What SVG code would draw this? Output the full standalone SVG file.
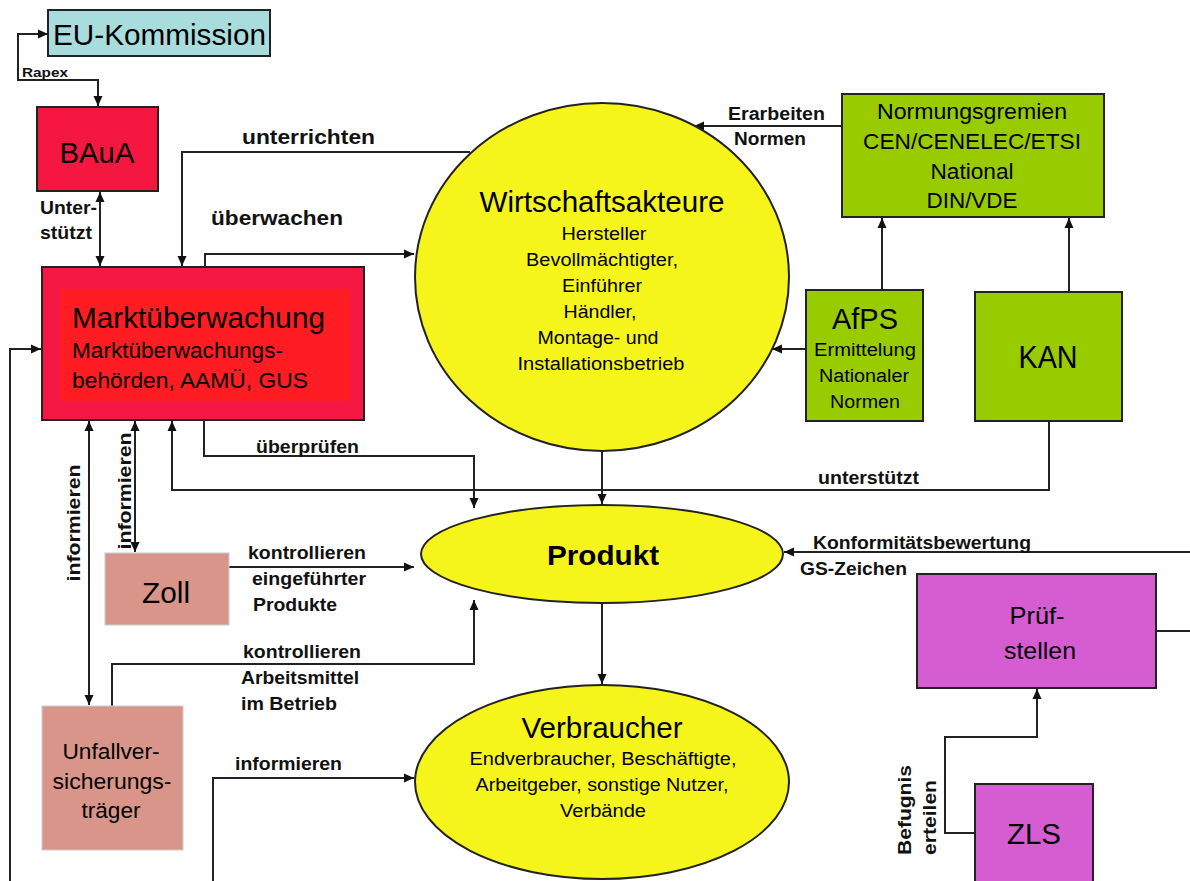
<svg xmlns="http://www.w3.org/2000/svg" width="1190" height="881" viewBox="0 0 1190 881">
<style>
.ln{fill:none;stroke:#222;stroke-width:2}
.box{stroke:#222;stroke-width:2}
.t{font-family:"Liberation Sans",Arial,sans-serif;fill:#000}
.lb{font-family:"Liberation Sans",Arial,sans-serif;font-weight:bold;font-size:18px;fill:#111}
.c{text-anchor:middle}
</style>
<defs>
<marker id="a" viewBox="0 0 10 10" refX="10" refY="5" markerWidth="10" markerHeight="10" markerUnits="userSpaceOnUse" orient="auto-start-reverse">
<path d="M0,0.5 L10,5 L0,9.5 z" fill="#111"/>
</marker>
</defs>
<rect width="1190" height="881" fill="#fff"/>

<g id="connectors">
<path class="ln" d="M48,34 H18 V80 H98 V106" marker-end="url(#a)" marker-start="url(#a)"/>
<path class="ln" d="M100,192 V266" marker-start="url(#a)" marker-end="url(#a)"/>
<path class="ln" d="M470,152 H182 V266" marker-end="url(#a)"/>
<path class="ln" d="M205,267 V254 H414" marker-end="url(#a)"/>
<path class="ln" d="M842,126 H694" marker-end="url(#a)"/>
<path class="ln" d="M806,349 H772" marker-end="url(#a)"/>
<path class="ln" d="M882,290 V218" marker-end="url(#a)"/>
<path class="ln" d="M1069,298 V218" marker-end="url(#a)"/>
<path class="ln" d="M1049,421 V490 H172 V421" marker-end="url(#a)"/>
<path class="ln" d="M602,450 V504" marker-end="url(#a)"/>
<path class="ln" d="M204,420 V456 H474 V508" marker-end="url(#a)"/>
<path class="ln" d="M602,603 V684" marker-end="url(#a)"/>
<path class="ln" d="M89,421 V705" marker-start="url(#a)" marker-end="url(#a)"/>
<path class="ln" d="M135,421 V552" marker-start="url(#a)" marker-end="url(#a)"/>
<path class="ln" d="M229,567 H414" marker-end="url(#a)"/>
<path class="ln" d="M112,706 V664 H474 V600" marker-end="url(#a)"/>
<path class="ln" d="M10,881 V349 H41" marker-end="url(#a)"/>
<path class="ln" d="M213,881 V778 H414" marker-end="url(#a)"/>
<path class="ln" d="M1190,552 H784" marker-end="url(#a)"/>
<path class="ln" d="M1156,631 H1190"/>
<path class="ln" d="M975,833 H945 V737 H1037 V689" marker-end="url(#a)"/>
</g>

<g id="labels">
<text class="lb" x="22" y="77" style="font-size:13px" textLength="46" lengthAdjust="spacingAndGlyphs">Rapex</text>
<text class="lb" x="40" y="214" textLength="57" lengthAdjust="spacingAndGlyphs">Unter-</text>
<text class="lb" x="40" y="239" textLength="52" lengthAdjust="spacingAndGlyphs">stützt</text>
<text class="lb" x="242" y="144" style="font-size:20px" textLength="133" lengthAdjust="spacingAndGlyphs">unterrichten</text>
<text class="lb" x="211" y="225" style="font-size:20px" textLength="132" lengthAdjust="spacingAndGlyphs">überwachen</text>
<text class="lb" x="728" y="120" textLength="97" lengthAdjust="spacingAndGlyphs">Erarbeiten</text>
<text class="lb" x="734" y="145" textLength="72" lengthAdjust="spacingAndGlyphs">Normen</text>
<text class="lb" x="818" y="484" textLength="101" lengthAdjust="spacingAndGlyphs">unterstützt</text>
<text class="lb" x="256" y="453" textLength="103" lengthAdjust="spacingAndGlyphs">überprüfen</text>
<text class="lb c" transform="translate(80,523) rotate(-90)" textLength="117" lengthAdjust="spacingAndGlyphs">informieren</text>
<text class="lb c" transform="translate(131,491) rotate(-90)" textLength="117" lengthAdjust="spacingAndGlyphs">informieren</text>
<text class="lb" x="248" y="559" textLength="118" lengthAdjust="spacingAndGlyphs">kontrollieren</text>
<text class="lb" x="252" y="585" textLength="114" lengthAdjust="spacingAndGlyphs">eingeführter</text>
<text class="lb" x="253" y="611" textLength="84" lengthAdjust="spacingAndGlyphs">Produkte</text>
<text class="lb" x="243" y="658" textLength="118" lengthAdjust="spacingAndGlyphs">kontrollieren</text>
<text class="lb" x="241" y="684" textLength="118" lengthAdjust="spacingAndGlyphs">Arbeitsmittel</text>
<text class="lb" x="241" y="710" textLength="96" lengthAdjust="spacingAndGlyphs">im Betrieb</text>
<text class="lb" x="235" y="770" textLength="107" lengthAdjust="spacingAndGlyphs">informieren</text>
<text class="lb" x="813" y="549" textLength="218" lengthAdjust="spacingAndGlyphs">Konformitätsbewertung</text>
<text class="lb" x="800" y="575" textLength="107" lengthAdjust="spacingAndGlyphs">GS-Zeichen</text>
<text class="lb" transform="translate(911,855) rotate(-90)" textLength="90" lengthAdjust="spacingAndGlyphs">Befugnis</text>
<text class="lb" transform="translate(936,855) rotate(-90)" textLength="75" lengthAdjust="spacingAndGlyphs">erteilen</text>
</g>

<g id="eu">
<rect class="box" x="48" y="10" width="222" height="46" fill="#a9dcdc"/>
<text class="t" x="53" y="45" style="font-size:30px" textLength="213" lengthAdjust="spacingAndGlyphs">EU-Kommission</text>
</g>

<g id="baua">
<rect class="box" x="37" y="107" width="121" height="84" fill="#f5173f"/>
<text class="t c" x="97" y="163" style="font-size:29px" textLength="75" lengthAdjust="spacingAndGlyphs">BAuA</text>
</g>

<g id="markt">
<rect class="box" x="42" y="267" width="322" height="153" fill="#f51845"/>
<rect x="60" y="289" width="290" height="112" fill="#ff1c22"/>
<text class="t" x="72" y="328" style="font-size:30px" textLength="253" lengthAdjust="spacingAndGlyphs">Marktüberwachung</text>
<text class="t" x="72" y="358" style="font-size:22px" textLength="211" lengthAdjust="spacingAndGlyphs">Marktüberwachungs-</text>
<text class="t" x="72" y="388" style="font-size:22px" textLength="236" lengthAdjust="spacingAndGlyphs">behörden, AAMÜ,  GUS</text>
</g>

<g id="wirtschaft">
<ellipse class="box" cx="602" cy="277" rx="187" ry="174" fill="#f5f51c"/>
<text class="t c" x="602" y="212" style="font-size:30px" textLength="245" lengthAdjust="spacingAndGlyphs">Wirtschaftsakteure</text>
<text class="t c" x="604" y="240" style="font-size:18px" textLength="85" lengthAdjust="spacingAndGlyphs">Hersteller</text>
<text class="t c" x="602" y="266" style="font-size:18px" textLength="152" lengthAdjust="spacingAndGlyphs">Bevollmächtigter,</text>
<text class="t c" x="602" y="292" style="font-size:18px" textLength="80" lengthAdjust="spacingAndGlyphs">Einführer</text>
<text class="t c" x="600" y="318" style="font-size:18px" textLength="73" lengthAdjust="spacingAndGlyphs">Händler,</text>
<text class="t c" x="598" y="344" style="font-size:18px" textLength="121" lengthAdjust="spacingAndGlyphs">Montage- und</text>
<text class="t c" x="601" y="370" style="font-size:18px" textLength="167" lengthAdjust="spacingAndGlyphs">Installationsbetrieb</text>
</g>

<g id="normung">
<rect class="box" x="842" y="94" width="262" height="123" fill="#99cc00"/>
<text class="t c" x="972" y="119" style="font-size:22px" textLength="190" lengthAdjust="spacingAndGlyphs">Normungsgremien</text>
<text class="t c" x="972" y="149" style="font-size:22px" textLength="218" lengthAdjust="spacingAndGlyphs">CEN/CENELEC/ETSI</text>
<text class="t c" x="972" y="179" style="font-size:22px" textLength="83" lengthAdjust="spacingAndGlyphs">National</text>
<text class="t c" x="972" y="208" style="font-size:22px" textLength="91" lengthAdjust="spacingAndGlyphs">DIN/VDE</text>
</g>

<g id="afps">
<rect class="box" x="806" y="290" width="117" height="131" fill="#99cc00"/>
<text class="t c" x="865" y="329" style="font-size:30px" textLength="66" lengthAdjust="spacingAndGlyphs">AfPS</text>
<text class="t c" x="865" y="356" style="font-size:18px" textLength="102" lengthAdjust="spacingAndGlyphs">Ermittelung</text>
<text class="t c" x="864" y="382" style="font-size:18px" textLength="90" lengthAdjust="spacingAndGlyphs">Nationaler</text>
<text class="t c" x="865" y="408" style="font-size:18px" textLength="70" lengthAdjust="spacingAndGlyphs">Normen</text>
</g>

<g id="kan">
<rect class="box" x="975" y="292" width="147" height="129" fill="#99cc00"/>
<text class="t c" x="1048" y="368" style="font-size:31px" textLength="59" lengthAdjust="spacingAndGlyphs">KAN</text>
</g>

<g id="produkt">
<ellipse class="box" cx="602" cy="554" rx="181" ry="49" fill="#f5f51c"/>
<text class="t c" x="603" y="565" style="font-size:28px;font-weight:bold" textLength="112" lengthAdjust="spacingAndGlyphs">Produkt</text>
</g>

<g id="verbraucher">
<ellipse class="box" cx="602" cy="782" rx="187" ry="97" fill="#f5f51c"/>
<text class="t c" x="602" y="738" style="font-size:30px" textLength="161" lengthAdjust="spacingAndGlyphs">Verbraucher</text>
<text class="t c" x="603" y="765" style="font-size:18px" textLength="267" lengthAdjust="spacingAndGlyphs">Endverbraucher, Beschäftigte,</text>
<text class="t c" x="602" y="791" style="font-size:18px" textLength="253" lengthAdjust="spacingAndGlyphs">Arbeitgeber, sonstige Nutzer,</text>
<text class="t c" x="603" y="817" style="font-size:18px" textLength="86" lengthAdjust="spacingAndGlyphs">Verbände</text>
</g>

<g id="zoll">
<rect x="105" y="553" width="124" height="72" fill="#d9958a" stroke="#ccc" stroke-width="1"/>
<text class="t c" x="166" y="603" style="font-size:29px" textLength="48" lengthAdjust="spacingAndGlyphs">Zoll</text>
</g>

<g id="unfall">
<rect x="42" y="706" width="141" height="144" fill="#d9958a" stroke="#ccc" stroke-width="1"/>
<text class="t c" x="111" y="759" style="font-size:22px" textLength="97" lengthAdjust="spacingAndGlyphs">Unfallver-</text>
<text class="t c" x="112" y="789" style="font-size:22px" textLength="119" lengthAdjust="spacingAndGlyphs">sicherungs-</text>
<text class="t c" x="111" y="818" style="font-size:22px" textLength="59" lengthAdjust="spacingAndGlyphs">träger</text>
</g>

<g id="pruef">
<rect class="box" x="917" y="574" width="239" height="114" fill="#d65cd2"/>
<text class="t c" x="1037" y="624" style="font-size:24px" textLength="55" lengthAdjust="spacingAndGlyphs">Prüf-</text>
<text class="t c" x="1040" y="659" style="font-size:24px" textLength="72" lengthAdjust="spacingAndGlyphs">stellen</text>
</g>

<g id="zls">
<rect class="box" x="975" y="784" width="118" height="110" fill="#d65cd2"/>
<text class="t c" x="1034" y="844" style="font-size:29px" textLength="54" lengthAdjust="spacingAndGlyphs">ZLS</text>
</g>
</svg>
